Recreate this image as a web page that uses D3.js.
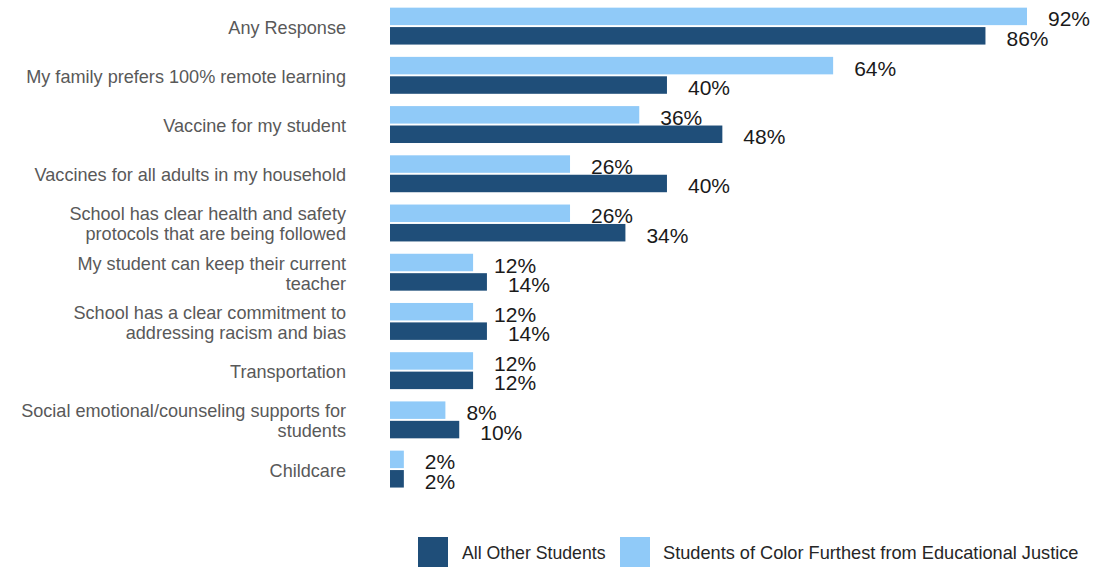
<!DOCTYPE html>
<html>
<head>
<meta charset="utf-8">
<script src="https://cdn.jsdelivr.net/npm/d3@7"></script>
<style>
  html, body { margin: 0; padding: 0; background: #fff; }
  svg { display: block; font-family: "Liberation Sans", Arial, sans-serif; }
</style>
</head>
<body>
<svg id="chart" width="1094" height="567"></svg>
<script>
// Survey responses: what would make families comfortable returning in person
const categories = [
  ["Any Response"],
  ["My family prefers 100% remote learning"],
  ["Vaccine for my student"],
  ["Vaccines for all adults in my household"],
  ["School has clear health and safety", "protocols that are being followed"],
  ["My student can keep their current", "teacher"],
  ["School has a clear commitment to", "addressing racism and bias"],
  ["Transportation"],
  ["Social emotional/counseling supports for", "students"],
  ["Childcare"]
];
const studentsOfColor = [92, 64, 36, 26, 26, 12, 12, 12, 8, 2];
const allOther = [86, 40, 48, 40, 34, 14, 14, 12, 10, 2];
const seriesNames = ["Students of Color Furthest from Educational Justice", "All Other Students"];
const seriesKeys = ["soc", "other"];
const colors = { soc: "#90CAF8", other: "#1F4E79" };

const rows = categories.map((c, i) => ({
  key: c.join(" "),
  lines: c,
  soc: studentsOfColor[i],
  other: allOther[i]
}));

const svg = d3.select("#chart");
const x0 = 390;
const x = d3.scaleLinear().domain([0, 92]).range([x0, 1027]);

const y = d3.scaleBand()
  .domain(rows.map(d => d.key))
  .range([1.5, 1.5 + 49.22 * rows.length])
  .paddingInner(0.25)
  .paddingOuter(0.125);

const ySub = d3.scaleBand()
  .domain(seriesKeys)
  .range([0, y.bandwidth()])
  .paddingInner(0.1);

// category labels
const catG = svg.append("g");
rows.forEach(d => {
  const cy = y(d.key) + y.bandwidth() / 2;
  const lh = 20;
  const t = catG.append("text")
    .attr("x", 346)
    .attr("text-anchor", "end")
    .attr("fill", "#595959")
    .attr("font-size", 18.1);
  d.lines.forEach((ln, j) => {
    t.append("tspan")
      .attr("x", 346)
      .attr("y", cy + 7.5 + (j - (d.lines.length - 1) / 2) * lh)
      .text(ln);
  });
});

// bars and value labels
const groups = svg.append("g").selectAll("g")
  .data(rows)
  .join("g")
  .attr("transform", d => `translate(0,${y(d.key)})`);

groups.selectAll("rect")
  .data(d => seriesKeys.map(k => ({ k, v: d[k] })))
  .join("rect")
  .attr("x", x(0))
  .attr("y", d => ySub(d.k))
  .attr("width", d => x(d.v) - x(0))
  .attr("height", ySub.bandwidth())
  .attr("fill", d => colors[d.k]);

groups.selectAll("text")
  .data(d => seriesKeys.map(k => ({ k, v: d[k] })))
  .join("text")
  .attr("x", d => x(d.v) + 21)
  .attr("y", d => ySub(d.k) + ySub.bandwidth() / 2 + 10)
  .attr("fill", "#1a1a1a")
  .attr("font-size", 21)
  .text(d => d.v + "%");

// legend
const legend = [
  { k: "other", name: seriesNames[1], x: 418, tx: 462, size: 17.7 },
  { k: "soc", name: seriesNames[0], x: 620, tx: 663, size: 18.2 }
];
const lg = svg.append("g");
legend.forEach(l => {
  lg.append("rect")
    .attr("x", l.x).attr("y", 537)
    .attr("width", 30).attr("height", 30)
    .attr("fill", colors[l.k]);
  lg.append("text")
    .attr("x", l.tx).attr("y", 559)
    .attr("fill", "#262626")
    .attr("font-size", l.size)
    .text(l.name);
});
</script>
</body>
</html>
